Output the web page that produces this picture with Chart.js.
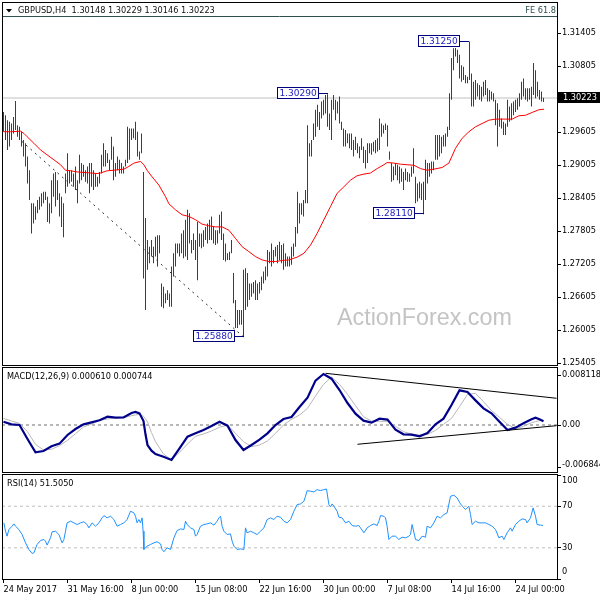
<!DOCTYPE html>
<html>
<head>
<meta charset="utf-8">
<script src="https://cdn.jsdelivr.net/npm/chart.js@4.4.1/dist/chart.umd.min.js"></script>
<style>
  html, body { margin: 0; padding: 0; background: #fff; }
  #wrap { position: relative; width: 600px; height: 600px; overflow: hidden; background: #fff; }
  canvas { position: absolute; left: 0; }
</style>
</head>
<body>
<div id="wrap">
  <canvas id="priceChart" width="600" height="366" style="top:0px"></canvas>
  <canvas id="macdChart" width="600" height="107" style="top:366px"></canvas>
  <canvas id="rsiChart" width="600" height="127" style="top:473px"></canvas>
</div>
<script>
// GBPUSD H4 bars, oldest first (high / low)
const barHigh = [
  1.2997,1.2991,1.2982,1.2979,1.2976,1.2988,1.3017,1.2973,1.2970,1.2961,
  1.2946,1.2940,1.2916,1.2891,1.2831,1.2831,1.2825,1.2837,1.2843,1.2849,
  1.2852,1.2852,1.2843,1.2831,1.2873,1.2885,1.2888,1.2873,1.2849,1.2843,
  1.2831,1.2885,1.2922,1.2891,1.2891,1.2885,1.2898,1.2873,1.2919,1.2904,
  1.2901,1.2891,1.2898,1.2904,1.2904,1.2891,1.2885,1.2879,1.2888,1.2919,
  1.2940,1.2928,1.2922,1.2910,1.2952,1.2934,1.2904,1.2916,1.2910,1.2904,
  1.2898,1.2910,1.2970,1.2967,1.2967,1.2967,1.2979,1.2961,1.2925,1.2958,
  1.2888,
  1.2804,1.2764,1.2752,1.2764,1.2752,1.2770,1.2773,1.2773,1.2685,1.2679,
  1.2667,1.2673,1.2667,1.2716,1.2740,1.2758,1.2758,1.2758,1.2776,1.2782,
  1.2801,1.2819,1.2813,1.2764,1.2776,1.2764,1.2797,1.2776,1.2776,1.2782,
  1.2788,1.2794,1.2801,1.2807,1.2788,1.2782,1.2782,1.2810,1.2816,1.2776,
  1.2758,1.2740,1.2743,1.2764,1.2704,1.2655,1.2637,1.2637,1.2637,1.2710,
  1.2713,1.2704,1.2685,1.2685,1.2688,1.2691,1.2685,1.2688,1.2698,1.2707,
  1.2716,1.2746,1.2743,1.2758,1.2746,1.2752,1.2755,1.2761,1.2755,1.2758,
  1.2740,1.2734,1.2734,
  1.2752,1.2758,1.2788,1.2852,1.2831,1.2831,1.2837,1.2855,1.2973,1.2940,
  1.2946,1.2976,1.3001,1.3010,1.2997,1.3016,1.3019,1.3028,1.3029,1.2994,
  1.3019,1.3028,1.3019,1.3016,1.3025,1.2979,1.2967,1.2964,1.2958,1.2958,
  1.2958,1.2946,1.2952,1.2940,1.2934,1.2949,1.2934,1.2928,1.2940,1.2940,
  1.2940,1.2943,1.2946,1.2949,1.2985,1.2976,1.2973,1.2976,1.2973,1.2925,
  1.2904,1.2898,1.2904,1.2901,1.2898,1.2894,1.2888,1.2894,1.2888,1.2885,
  1.2898,1.2931,1.2879,1.2867,1.2870,1.2867,1.2870,1.2910,1.2904,1.2904,
  1.2907,1.2907,1.2955,
  1.2955,1.2955,1.2952,1.2955,1.2958,1.2970,1.3031,1.3095,1.3113,1.3116,
  1.3110,1.3101,1.3082,1.3079,1.3064,1.3061,1.3125,1.3067,1.3052,1.3055,
  1.3049,1.3046,1.3043,1.3052,1.3055,1.3040,1.3037,1.3034,1.3031,1.3019,
  1.3013,1.3001,1.2985,1.2979,1.2976,1.3019,1.3007,1.3013,1.3016,1.3019,
  1.3022,1.3031,1.3052,1.3058,1.3040,1.3040,1.3040,1.3043,1.3086,1.3073,
  1.3052,1.3037,1.3034,1.3023
];
const barLow = [
  1.2961,1.2946,1.2928,1.2934,1.2946,1.2958,1.2964,1.2952,1.2946,1.2934,
  1.2916,1.2898,1.2867,1.2837,1.2776,1.2794,1.2801,1.2813,1.2819,1.2825,
  1.2831,1.2837,1.2797,1.2794,1.2813,1.2843,1.2825,1.2837,1.2807,1.2788,
  1.2769,1.2849,1.2861,1.2867,1.2870,1.2861,1.2855,1.2831,1.2867,1.2873,
  1.2879,1.2870,1.2867,1.2849,1.2861,1.2855,1.2861,1.2861,1.2867,1.2885,
  1.2898,1.2898,1.2904,1.2891,1.2910,1.2873,1.2879,1.2891,1.2885,1.2885,
  1.2885,1.2898,1.2904,1.2910,1.2946,1.2949,1.2946,1.2916,1.2910,1.2922,
  1.2694,
  1.2637,1.2710,1.2722,1.2734,1.2722,1.2734,1.2716,1.2740,1.2643,1.2640,
  1.2649,1.2655,1.2643,1.2643,1.2698,1.2716,1.2740,1.2734,1.2740,1.2731,
  1.2734,1.2728,1.2758,1.2740,1.2746,1.2728,1.2691,1.2752,1.2749,1.2752,
  1.2764,1.2758,1.2764,1.2764,1.2758,1.2755,1.2758,1.2776,1.2764,1.2728,
  1.2725,1.2728,1.2728,1.2740,1.2649,1.2604,1.2604,1.2610,1.2610,1.2588,
  1.2637,1.2643,1.2655,1.2661,1.2667,1.2655,1.2655,1.2667,1.2673,1.2685,
  1.2691,1.2698,1.2722,1.2716,1.2722,1.2734,1.2722,1.2728,1.2722,1.2710,
  1.2716,1.2716,1.2716,
  1.2719,1.2734,1.2752,1.2776,1.2794,1.2810,1.2807,1.2831,1.2831,1.2916,
  1.2916,1.2946,1.2952,1.2970,1.2964,1.2985,1.2991,1.2994,1.2970,1.2964,
  1.2946,1.3001,1.2982,1.2994,1.2976,1.2964,1.2934,1.2934,1.2940,1.2931,
  1.2928,1.2916,1.2928,1.2922,1.2913,1.2928,1.2904,1.2894,1.2904,1.2922,
  1.2919,1.2925,1.2922,1.2925,1.2928,1.2952,1.2958,1.2964,1.2934,1.2910,
  1.2870,1.2873,1.2882,1.2873,1.2867,1.2870,1.2855,1.2873,1.2870,1.2870,
  1.2879,1.2885,1.2831,1.2834,1.2840,1.2837,1.2811,1.2837,1.2867,1.2879,
  1.2885,1.2891,1.2910,
  1.2910,1.2916,1.2922,1.2934,1.2934,1.2952,1.2964,1.3019,1.3073,1.3098,
  1.3086,1.3058,1.3052,1.3055,1.3049,1.3049,1.3055,1.3007,1.3007,1.3019,
  1.3025,1.3019,1.3016,1.3025,1.3028,1.3016,1.3016,1.3019,1.3016,1.2973,
  1.2934,1.2970,1.2967,1.2955,1.2955,1.2970,1.2979,1.2982,1.2991,1.2997,
  1.3001,1.3007,1.3019,1.3025,1.3019,1.3016,1.3019,1.3007,1.3028,1.3022,
  1.3025,1.3019,1.3016,1.3015
];
const lastClose = 1.30223;

const maIdx = [0,3.5,8.5,10.2,11.8,15.2,18.5,21.8,25.2,28.5,31,33.5,36.8,40.2,43.5,46.8,48.5,51.8,55.2,60.2,
  62.7,65.2,68.5,70.2,71.8,74.3,77.7,81,82.7,86,89.3,92.7,96,99.3,102.7,106,109.3,112.7,116,119.3,
  122.7,126,129.3,132.7,136,139.3,142.7,146.8,150.2,153.5,156.8,160.2,163.5,166.8,170.2,173.5,176.8,180.2,183.5,186.8,
  190.2,191.8,195.2,198.5,201.8,205.2,208.5,211.8,215.2,219.3,222.7,226,229.3,232.7,236,239.3,242.7,246,249.3,251.8,
  254.3,257.7,261,264.3,267.7,270.3];
const maVal = [1.2961,1.2961,1.2962,1.2958,1.2952,1.2940,1.2928,1.2919,1.2910,1.2901,1.2891,1.2890,1.2888,1.2887,1.2886,1.2885,1.2886,1.2890,1.2891,1.2893,
  1.2898,1.2904,1.2907,1.2901,1.2891,1.2879,1.2864,1.2843,1.2830,1.2819,1.2810,1.2807,1.2801,1.2793,1.2790,1.2788,1.2788,1.2782,1.2767,1.2752,
  1.2743,1.2734,1.2728,1.2725,1.2725,1.2727,1.2728,1.2733,1.2740,1.2755,1.2776,1.2801,1.2825,1.2849,1.2861,1.2873,1.2881,1.2884,1.2886,1.2894,
  1.2901,1.2905,1.2904,1.2902,1.2901,1.2900,1.2894,1.2891,1.2893,1.2896,1.2904,1.2931,1.2949,1.2961,1.2970,1.2976,1.2982,1.2984,1.2984,1.2984,
  1.2984,1.2990,1.2991,1.2996,1.3001,1.3002];

// fibo expansion leg (dotted) and its 61.8 level
const feIdx = [9, 120];
const fePrice = [1.2944, 1.2588];
const fe618 = 1.31705;

// swing high / low labels
const markIdx = [233, 162, 210, 120];
const markPrice = [1.3125, 1.3029, 1.2811, 1.2588];

const priceTicks = [1.31405, 1.30805, 1.29605, 1.29005, 1.28405, 1.27805, 1.27205, 1.26605, 1.26005, 1.25405];

const timeIdx = [0, 32, 64, 96, 128, 160, 192, 224, 256];
const timeLabels = ['24 May 2017', '31 May 16:00', '8 Jun 00:00', '15 Jun 08:00', '22 Jun 16:00',
  '30 Jun 00:00', '7 Jul 08:00', '14 Jul 16:00', '24 Jul 00:00'];

// MACD(12,26,9)
const macdIdx = [0,4,8,12,16,20,24,28,32,36,40,44,48,52,56,60,64,
  66,68,70,71,72,74,
  76,80,84,88,92,96,100,104,108,112,
  116,120,124,128,132,136,140,144,148,152,
  156,160,164,168,172,176,180,184,188,192,
  196,200,204,208,212,216,220,224,228,232,
  236,240,244,248,252,256,260,264,
  266,268,270];
const macdMain = [0.00054,0.0001,0,-0.00227,-0.00444,-0.00422,-0.00346,-0.00303,-0.00162,-0.00065,
  0.0001,0.00043,0.00076,0.00135,0.00119,0.00124,0.00195,
  0.00211,0.00189,0.00065,-0.00151,-0.00325,-0.00417,
  -0.00471,-0.00514,-0.00568,-0.00379,-0.00189,-0.00135,-0.00081,-0.00016,0.00054,-0.00011,
  -0.00244,-0.00406,-0.00325,-0.00238,-0.00135,0,0.00097,0.0013,0.00292,0.00444,
  0.0072,0.00828,0.00752,0.00568,0.00357,0.00184,0.0007,0.00038,0.00103,0.00087,
  -0.00076,-0.00151,-0.00157,-0.00184,-0.0013,0.00011,0.00103,0.00325,0.00563,0.00536,
  0.004,0.0027,0.00189,0.00054,-0.00081,-0.00043,0.00027,0.00092,
  0.00119,0.00092,0.00061];
const macdSignal = [0.00108,0.00065,0.00027,-0.00108,-0.00314,-0.00406,-0.00395,-0.00335,-0.00249,-0.00141,
  -0.00032,0.00016,0.00076,0.00097,0.00119,0.00119,0.00151,
  0.00162,0.00173,0.00141,0.00097,0.00054,-0.00122,
  -0.00271,-0.00471,-0.00563,-0.00444,-0.00308,-0.00184,-0.00146,-0.00097,-0.00038,0,
  -0.00135,-0.00271,-0.00352,-0.00325,-0.0026,-0.00135,0,0.00092,0.00162,0.0027,
  0.00471,0.0066,0.00779,0.0066,0.00498,0.00314,0.00135,0.00065,0.0006,0.0006,
  -0.00022,-0.00108,-0.00146,-0.00162,-0.00151,-0.00087,0.00011,0.00108,0.00298,0.00498,
  0.00514,0.00379,0.00233,0.00124,0.00011,-0.0006,-0.00022,0.00038,
  0.00055,0.0007,0.00074];
const macdUpperIdx = [161, 276.5];
const macdUpperVal = [0.00839, 0.00434];
const macdLowerIdx = [177, 276.5];
const macdLowerVal = [-0.00313, -0.00011];
const macdTicks = [0.008118, 0, -0.006844];
const macdTickText = ['0.008118', '0.00', '-0.006844'];

// RSI(14)
const rsiIdx = [0.2,1,1.8,2.7,4.3,5.2,6,7.7,9.3,11,12.7,14.3,15.2,16.8,18.5,20.2,21,21.8,23.5,24.3,
  26,27.7,29.3,30.2,31,31.8,33.5,35.2,36.8,38.5,40.2,41.8,42.7,44.3,46,47.7,49.3,50.2,51.8,53.5,
  55.2,56.8,58.5,60.2,61.8,63.5,65.2,66,66.8,67.7,68.5,69.3,69.8,70.2,71.8,73.5,75.2,76.8,78.5,79.3,
  80.2,81.8,83.5,85.2,86.8,88.5,90.2,91,91.8,93.5,95.2,96,96.8,98.5,100.2,101.8,103.5,105.2,106.8,107.7,
  108.5,109.3,110.2,111.8,113.5,114.3,115.2,116.8,118.5,120.2,121,121.8,123.5,125.2,126.8,128.5,130.2,131.8,133.5,135.2,
  136.8,138.5,140.2,141.8,143.5,145.2,146.8,148.5,150.2,151,151.8,153.5,155.2,156.8,158.5,160.2,161.5,162.7,163.5,164.3,
  165.2,166.8,167.7,169.3,171,172.7,174.3,176,177.7,178.5,180.2,181.8,183.5,185.2,186.8,187.7,188.5,190.2,191,191.8,
  192.7,194.3,196,197.7,199.3,201,202.7,203.5,204.3,206,207.7,209.3,211,211.8,213.5,215.2,216.8,218.5,220.2,221.8,
  223.5,225.2,226.8,228.5,230.2,231,232.7,233.5,234.3,236,237.7,239.3,241,242.7,244.3,246,247.7,249.3,250.2,251.8,
  253.5,254.3,256,257.7,259.3,261,261.8,263.5,264.8,266,266.8,268.5,269.8];
const rsiVal = [54,46,41.2,47.6,50.8,53,50.8,47.6,42.8,34.8,28.4,24.6,25.2,33.2,37,38,36.4,32.6,39.6,45.4,
  46,42.8,34.8,38,46,54,55.6,54,52.4,54,55,52.4,49.2,54,50.8,54,58.8,61,58.8,60.4,
  57.2,50.8,52.4,54,57.2,65.2,63.6,60.4,54,57.2,54,58.8,46,28.4,31.6,33.2,34.8,35.8,33.8,28.4,
  26.2,30,28.4,39.6,46.6,48.2,47.6,55.6,52.4,49.2,47.6,41.2,42.8,50.8,52.4,53,54,51.8,55.6,58.8,
  60.4,50.8,46,42.8,43.4,36.4,31.6,28.4,29,28.4,49.2,44.4,46,44.4,42.8,46,49.2,57.2,58.8,57.2,
  60.4,59.4,55.6,54,57.2,65.2,71.6,72.2,74.8,79.6,85,84.4,83.8,86,85,86,86.6,71.6,69.4,72.2,
  70,65.2,59.4,58.8,54,55.6,51.4,50.8,51.4,49.2,44.4,49.2,51.4,53,51.4,55.6,61,60.4,58.8,50.8,
  38,41.2,41.2,38,40.2,39.6,41.2,42.8,52.4,38,37,41.2,40.2,50.8,49.2,54,60.4,58.8,62,63.6,
  79.6,80.6,78,72.2,68.4,66.8,70,62,52.4,55.6,54,54,54,52.4,50.8,47.6,39.6,41.2,38,44.4,
  49.2,46,52.4,55.6,57.8,57.2,54,58.8,68.4,60.4,52.4,51.8,51.5];
const rsiLevels = [70, 30];
const rsiTicks = [100, 70, 30, 0];

// ---------------------------------------------------------------
const FAM = "'DejaVu Sans'";
const SMALL = 8.2;
const X_MIN = -0.75, X_MAX = 276.75;
Chart.defaults.font.family = FAM;
Chart.defaults.font.size = SMALL;
Chart.defaults.color = '#000';

const pts = (xs, ys) => xs.map((x, k) => ({ x: x, y: ys[k] }));
const flat = v => [{ x: X_MIN, y: v }, { x: X_MAX, y: v }];

function lineSet(data, color, width, order, dash) {
  return {
    type: 'line', data: data, borderColor: color, borderWidth: width,
    pointRadius: 0, tension: 0, fill: false, order: order, borderDash: dash || []
  };
}

const hiddenX = { type: 'linear', display: false, min: X_MIN, max: X_MAX, offset: false, grid: { offset: false } };

function sideAxis(min, max, tickVals, showLabels, fmt) {
  return {
    type: 'linear', position: 'right', min: min, max: max, bounds: 'data', beginAtZero: false,
    // fixed width, and no extra room for half labels at the ends
    afterFit: s => { s.width = 43; s.paddingTop = 0; s.paddingBottom = 0; },
    afterBuildTicks: s => { s.ticks = tickVals.map(v => ({ value: v })); },
    ticks: { display: showLabels, autoSkip: false, padding: 1, color: '#000',
      font: { family: FAM, size: SMALL }, callback: fmt || (v => v) },
    grid: { drawOnChartArea: false, tickLength: 4, color: '#000' },
    border: { display: false }
  };
}

const panelFrame = {
  id: 'panelFrame',
  afterDraw(chart) {
    const a = chart.chartArea, c = chart.ctx;
    const l = Math.floor(a.left), t = Math.floor(a.top), r = Math.floor(a.right), b = Math.floor(a.bottom);
    c.save();
    c.strokeStyle = '#000';
    c.lineWidth = 1;
    c.strokeRect(l + 0.5, t + 0.5, r - l, b - t);
    c.restore();
  }
};

// labels at the right of the sub panels, kept inside the panel like the terminal does
const sideLabels = {
  id: 'sideLabels',
  afterDraw(chart, args, opts) {
    const c = chart.ctx, a = chart.chartArea, ys = chart.scales.y;
    c.save();
    c.font = SMALL + 'px ' + FAM;
    c.fillStyle = '#000';
    c.textAlign = 'left';
    c.textBaseline = 'middle';
    opts.values.forEach((v, k) => {
      const y = Math.min(Math.max(ys.getPixelForValue(v), a.top + 7), a.bottom - 7);
      c.fillText(opts.texts[k], a.right + 5, y);
    });
    if (opts.title) c.fillText(opts.title, 7, a.top + opts.titleY);
    c.restore();
  }
};

const priceDecor = {
  id: 'priceDecor',
  beforeDatasetsDraw(chart) {
    const c = chart.ctx;
    c.save();
    c.font = "23.3px 'Liberation Sans'";
    c.fillStyle = '#c4c4c4';
    c.textAlign = 'left';
    c.textBaseline = 'alphabetic';
    c.fillText('ActionForex.com', 337, 325);
    c.restore();
  },
  afterDatasetsDraw(chart) {
    const c = chart.ctx, xs = chart.scales.x, ys = chart.scales.y;
    c.save();
    c.font = '9px ' + FAM;
    c.textBaseline = 'middle';
    c.textAlign = 'center';
    c.lineWidth = 1;
    markIdx.forEach((idx, k) => {
      const px = Math.round(xs.getPixelForValue(idx));
      const py = Math.round(ys.getPixelForValue(markPrice[k]));
      const r = px - 9, l = r - 42;
      c.strokeStyle = '#000080';
      c.beginPath();
      c.moveTo(r, py - 0.5);
      c.lineTo(px, py - 0.5);
      c.stroke();
      c.fillStyle = '#fff';
      c.fillRect(l, py - 6, 42, 12);
      c.strokeRect(l + 0.5, py - 6.5, 41, 11);
      c.fillStyle = '#2323c3';
      c.fillText(markPrice[k].toFixed(5), l + 21, py - 0.5);
    });
    c.restore();
  },
  afterDraw(chart) {
    const c = chart.ctx, ys = chart.scales.y;
    c.save();
    // title
    c.fillStyle = '#000';
    c.beginPath();
    c.moveTo(6, 9); c.lineTo(12, 9); c.lineTo(9, 12.5); c.closePath();
    c.fill();
    c.font = SMALL + 'px ' + FAM;
    c.textBaseline = 'middle';
    c.textAlign = 'left';
    c.fillStyle = '#111';
    c.fillText('GBPUSD,H4  1.30148 1.30229 1.30146 1.30223', 18, 11);
    c.fillStyle = '#2f4f4f';
    c.textAlign = 'right';
    c.fillText('FE 61.8', 556, 11);
    // last price tag
    const py = ys.getPixelForValue(lastClose);
    c.fillStyle = '#000';
    c.fillRect(558, Math.round(py) - 6, 42, 11);
    c.fillStyle = '#fff';
    c.textAlign = 'left';
    c.fillText(lastClose.toFixed(5), 563, Math.round(py) - 0.5);
    c.restore();
  }
};

const common = {
  responsive: false,
  animation: false,
  devicePixelRatio: 1,
  events: [],
  plugins: { legend: { display: false }, tooltip: { enabled: false } }
};

// main price panel
new Chart(document.getElementById('priceChart'), {
  type: 'bar',
  data: {
    datasets: [
      lineSet(flat(fe618), '#2f4f4f', 1, 5),
      lineSet(flat(lastClose), '#c0c0c0', 1, 4),
      {
        type: 'bar',
        data: barHigh.map((h, i) => ({ x: i, y: [barLow[i], h] })),
        backgroundColor: '#1b4866',
        barThickness: 1,
        inflateAmount: 0,
        borderWidth: 0,
        order: 2
      },
      lineSet(pts(maIdx, maVal), '#ff0000', 1, 1),
      lineSet(pts(feIdx, fePrice), '#333333', 1, 0, [2, 4])
    ]
  },
  options: Object.assign({}, common, {
    layout: { padding: { left: 2, top: 2, right: 0, bottom: 1 } },
    scales: {
      x: hiddenX,
      y: sideAxis(1.25369, 1.31969, priceTicks, true, v => v.toFixed(5))
    }
  }),
  plugins: [priceDecor, panelFrame]
});

// MACD panel
new Chart(document.getElementById('macdChart'), {
  type: 'line',
  data: {
    datasets: [
      lineSet(flat(0), '#707070', 1, 4, [3, 3]),
      lineSet(pts(macdIdx, macdSignal), '#b8b8b8', 1, 3),
      lineSet(pts(macdIdx, macdMain), '#00008b', 2.2, 2),
      lineSet(pts(macdUpperIdx, macdUpperVal), '#000', 1, 1),
      lineSet(pts(macdLowerIdx, macdLowerVal), '#000', 1, 1)
    ]
  },
  options: Object.assign({}, common, {
    layout: { padding: { left: 2, top: 1, right: 0, bottom: 1 } },
    scales: {
      x: hiddenX,
      y: sideAxis(-0.007631, 0.009417, macdTicks, false)
    },
    plugins: Object.assign({}, common.plugins, {
      sideLabels: { values: macdTicks, texts: macdTickText, title: 'MACD(12,26,9) 0.000610 0.000744', titleY: 10 }
    })
  }),
  plugins: [sideLabels, panelFrame]
});

// RSI panel with the time axis
new Chart(document.getElementById('rsiChart'), {
  type: 'line',
  data: {
    datasets: [
      lineSet(flat(rsiLevels[0]), '#c0c0c0', 1, 3, [3, 3]),
      lineSet(flat(rsiLevels[1]), '#c0c0c0', 1, 3, [3, 3]),
      lineSet(pts(rsiIdx, rsiVal), '#1e90ff', 1, 1)
    ]
  },
  options: Object.assign({}, common, {
    layout: { padding: { left: 2, top: 1, right: 0, bottom: 0 } },
    scales: {
      x: {
        type: 'linear', position: 'bottom', min: X_MIN, max: X_MAX, offset: false, bounds: 'data',
        afterFit: s => { s.height = 21; s.paddingLeft = 0; s.paddingRight = 0; },
        afterBuildTicks: s => { s.ticks = timeIdx.map(v => ({ value: v })); },
        ticks: { autoSkip: false, maxRotation: 0, minRotation: 0, align: 'start', padding: 2, color: '#000',
          font: { family: FAM, size: SMALL }, callback: v => timeLabels[timeIdx.indexOf(v)] },
        grid: { drawOnChartArea: false, tickLength: 4, color: '#000', offset: false },
        border: { display: false }
      },
      y: sideAxis(0, 101, rsiTicks, false)
    },
    plugins: Object.assign({}, common.plugins, {
      sideLabels: { values: rsiTicks, texts: rsiTicks.map(String), title: 'RSI(14) 51.5050', titleY: 9.5 }
    })
  }),
  plugins: [sideLabels, panelFrame]
});
</script>
</body>
</html>
